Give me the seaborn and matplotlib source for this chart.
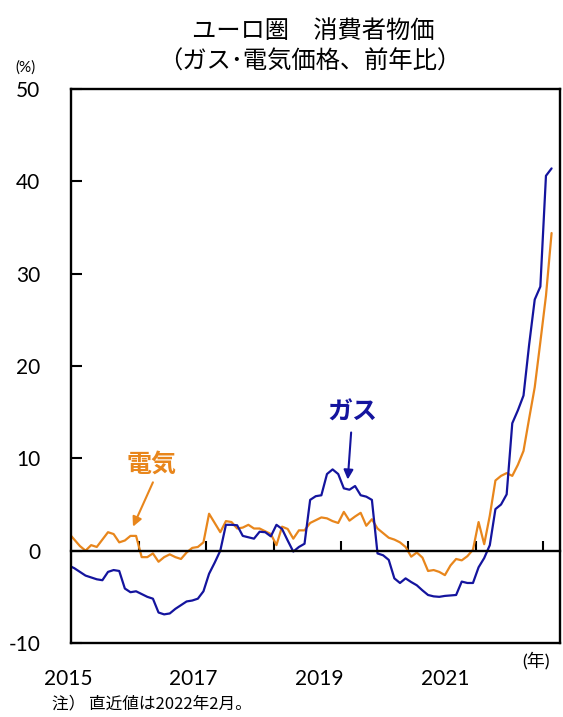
import numpy as np
import pandas as pd
import matplotlib
matplotlib.use("Agg")
import matplotlib.pyplot as plt
import matplotlib.transforms as mtransforms
import seaborn as sns

# Monthly series, Dec 2014 .. Feb 2022 (year-on-year, %)
months = pd.date_range("2014-12-01", "2022-02-01", freq="MS")

gas = [
    -1.6,
    -1.9, -2.3, -2.7, -2.9, -3.1, -3.2, -2.3, -2.1, -2.2, -4.1, -4.5, -4.4,
    -4.7, -5.0, -5.2, -6.7, -6.9, -6.8, -6.3, -5.9, -5.5, -5.4, -5.2, -4.4,
    -2.5, -1.3, 0.0, 2.8, 2.8, 2.75, 1.6, 1.45, 1.3, 2.05, 2.0, 1.55,
    2.8, 2.35, 1.1, -0.1, 0.4, 0.75, 5.5, 5.9, 6.0, 8.3, 8.8, 8.3,
    6.75, 6.6, 7.0, 6.0, 5.85, 5.5, -0.3, -0.5, -1.0, -3.0, -3.5, -3.0,
    -3.4, -3.75, -4.3, -4.8, -4.95, -5.0, -4.9, -4.85, -4.8, -3.35, -3.5, -3.5,
    -1.8, -0.8, 0.6, 4.5, 5.0, 6.1, 13.8, 15.2, 16.8, 22.3, 27.2, 28.6,
    40.6, 41.4,
]

electricity = [
    1.9,
    1.2, 0.5, 0.0, 0.6, 0.4, 1.2, 2.0, 1.8, 0.9, 1.1, 1.6, 1.6,
    -0.7, -0.7, -0.3, -1.2, -0.7, -0.4, -0.7, -0.9, -0.2, 0.3, 0.4, 0.9,
    4.0, 3.0, 2.0, 3.2, 3.1, 2.4, 2.5, 2.8, 2.4, 2.4, 2.1, 1.8,
    0.6, 2.6, 2.35, 1.3, 2.2, 2.2, 3.0, 3.3, 3.6, 3.5, 3.2, 3.0,
    4.2, 3.25, 3.7, 4.1, 2.7, 3.4, 2.4, 1.9, 1.4, 1.2, 0.9, 0.4,
    -0.65, -0.2, -0.75, -2.2, -2.1, -2.3, -2.65, -1.6, -0.9, -1.05, -0.6, 0.1,
    3.1, 0.7, 3.8, 7.6, 8.1, 8.4, 8.1, 9.3, 10.8, 14.3, 17.7, 22.6,
    27.6, 34.4,
]

year_labels = ["2015", "2017", "2019", "2021"]
year_label_pos = [-1.1, 21.1, 43.6, 66.0]
y_ticks = [-10, 0, 10, 20, 30, 40, 50]

BLUE = "#14149E"
ORANGE = "#E8861C"

# months counted from Jan 2015
t = (months.year - 2015) * 12 + (months.month - 1)
df = pd.DataFrame({"t": t, "ガス": gas, "電気": electricity})
long = df.melt("t", var_name="品目", value_name="前年比")

sns.set_theme(style="white")
plt.rcParams["font.family"] = ["Lato", "Noto Sans CJK JP", "DejaVu Sans"]

fig = plt.figure(figsize=(5.63, 7.17), dpi=100)
ax = fig.add_axes([71 / 563, 1 - 643 / 717, 489 / 563, 554 / 717])

sns.lineplot(
    data=long, x="t", y="前年比", hue="品目", hue_order=["電気", "ガス"],
    palette={"ガス": BLUE, "電気": ORANGE}, linewidth=1.6, legend=False, ax=ax,
)

ax.set_xlim(-0.59, 86.5)
ax.set_ylim(-10, 50)
ax.set_xlabel("")
ax.set_ylabel("")

# frame
for side in ["left", "right", "top", "bottom"]:
    ax.spines[side].set_color("black")
    ax.spines[side].set_linewidth(1.7)
ax.spines["bottom"].set_position(("data", 0))
ax.plot([0, 1], [0, 0], transform=ax.transAxes, color="black", lw=1.7,
        clip_on=False, solid_capstyle="projecting")

# y axis
ax.set_yticks(y_ticks)
ax.set_yticklabels([str(v) for v in y_ticks])
ax.tick_params(axis="y", direction="in", length=8, width=1.5, pad=22,
               labelsize=15, colors="black", left=True)

# x axis: year boundaries on the zero line
ax.set_xticks(np.arange(11.5, 84, 12))
ax.tick_params(axis="x", direction="in", length=7, width=1.5, bottom=True,
               labelbottom=False, colors="black")

trans = mtransforms.blended_transform_factory(ax.transData, ax.transAxes)
for pos, lab in zip(year_label_pos, year_labels):
    ax.text(pos, -0.065, lab, transform=trans, ha="center", va="center",
            fontsize=15, color="black")

cjk = ["Noto Sans CJK JP", "DejaVu Sans"]

# series labels with arrows
ax.text(13.8, 9.3, "電気", color=ORANGE, fontsize=18, fontweight="bold",
        ha="center", va="center", family=cjk)
ax.annotate("", xy=(10.45, 2.6), xytext=(14.0, 7.4),
            arrowprops=dict(arrowstyle="-|>", color=ORANGE, lw=1.5,
                            mutation_scale=14, shrinkA=0, shrinkB=0))
ax.text(49.6, 15.0, "ガス", color=BLUE, fontsize=18, fontweight="bold",
        ha="center", va="center", family=cjk)
ax.annotate("", xy=(48.7, 7.7), xytext=(49.3, 12.8),
            arrowprops=dict(arrowstyle="-|>", color=BLUE, lw=1.5,
                            mutation_scale=14, shrinkA=0, shrinkB=0))

fig.text(313 / 563, 1 - 31 / 717, "ユーロ圏\u3000消費者物価", ha="center",
         va="center", fontsize=17.5, family=cjk, color="black")
fig.text(310 / 563, 1 - 62 / 717, "（ガス･電気価格、前年比）", ha="center",
         va="center", fontsize=17.5, family=cjk, color="black")
fig.text(25 / 563, 1 - 68 / 717, "(%)", ha="center", va="center",
         fontsize=11, color="black")
fig.text(536 / 563, 1 - 661 / 717, "(年)", ha="center", va="center",
         fontsize=13, family=["Lato", "Noto Sans CJK JP"], color="black")
fig.text(52 / 563, 1 - 704 / 717, "注） 直近値は2022年2月。", ha="left",
         va="center", fontsize=12, family=cjk, color="black")

fig.savefig("out.png", dpi=100)
